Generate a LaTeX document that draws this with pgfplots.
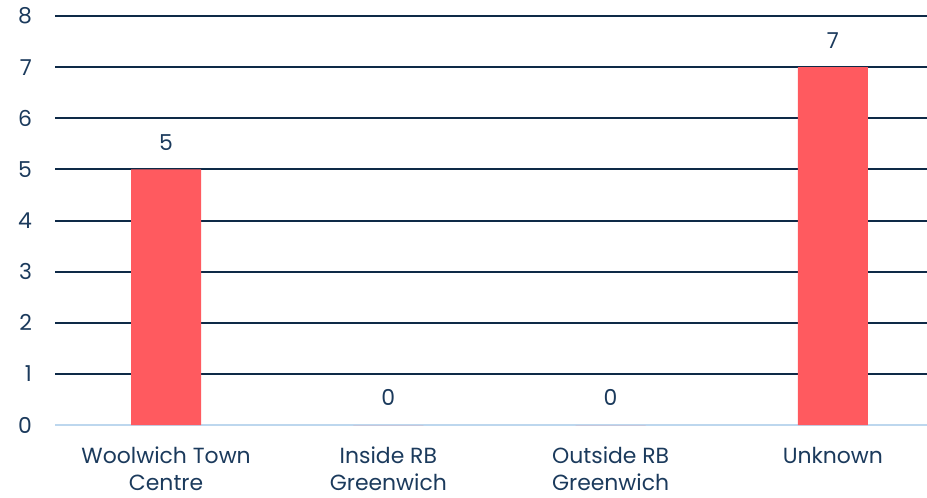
\documentclass[border=0pt]{standalone}
\usepackage{pgfplots}
\pgfplotsset{compat=1.18}
\usepackage{fontspec}
\setmainfont{Poppins}
\definecolor{barred}{HTML}{FF5A5F}
\definecolor{navytext}{HTML}{1B3A5C}
\definecolor{gridnavy}{HTML}{0E2A47}
\definecolor{axisblue}{HTML}{BDD7EE}
\begin{document}
\begin{tikzpicture}
\begin{axis}[
  scale only axis,
  width=444.5bp, height=204.5bp,
  ybar, bar width=35bp,
  xmin=-0.5, xmax=3.5,
  ymin=0, ymax=8,
  ytick={0,1,...,8},
  xtick=data,
  xticklabels={{Woolwich Town\\Centre},{Inside RB\\Greenwich},{Outside RB\\Greenwich},{Unknown}},
  x tick label style={align=center, font=\fontsize{11}{13.5}\selectfont, text=navytext, yshift=-7.5bp},
  y tick label style={font=\fontsize{11}{13}\selectfont, text=navytext, xshift=-8bp},
  /pgf/number format/assume math mode=true,
  major tick length=0pt,
  axis lines*=left,
  x axis line style={axisblue, line width=1bp, -},
  y axis line style={draw=none, -},
  ymajorgrids,
  grid style={gridnavy, line width=1bp},
  nodes near coords,
  every node near coord/.append style={font=\fontsize{11}{13}\selectfont, text=navytext, yshift=6bp},
  clip=false,
]
\addplot[fill=barred, draw=none] coordinates {(0,5) (1,0) (2,0) (3,7)};
\end{axis}
\pgfresetboundingbox
\useasboundingbox ([xshift=-27.5bp,yshift=-36.5bp]current axis.south west) rectangle ([xshift=436bp,yshift=212.5bp]current axis.south west);
\end{tikzpicture}
\end{document}
